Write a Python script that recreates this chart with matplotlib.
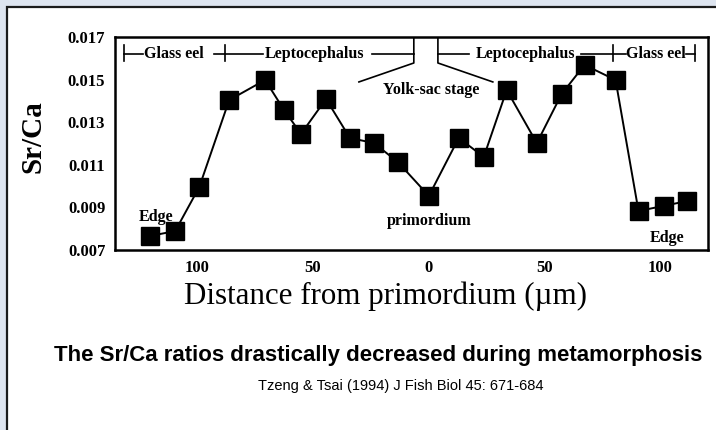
import matplotlib
matplotlib.use("Agg")
import matplotlib.pyplot as plt
from matplotlib.patches import Rectangle

# distance from primordium (negative = left half of the transect), Sr/Ca ratio
distance = [-120.3, -109.5, -99.1, -86.2, -70.7, -62.5, -55.2, -44.4, -34.1,
            -23.7, -13.4, 0.0, 12.9, 23.7, 33.6, 46.6, 57.3, 67.2, 80.6,
            90.5, 101.3, 111.6]
sr_ca = [0.00766, 0.00789, 0.00996, 0.01404, 0.01498, 0.01357, 0.01245,
         0.01409, 0.01226, 0.01202, 0.01113, 0.00954, 0.01226, 0.01137,
         0.01451, 0.01202, 0.01432, 0.01569, 0.01498, 0.00883, 0.00907,
         0.00930]

x_ticks = [-100, -50, 0, 50, 100]
x_tick_labels = ["100", "50", "0", "50", "100"]
y_ticks = [0.007, 0.009, 0.011, 0.013, 0.015, 0.017]
y_tick_labels = ["0.007", "0.009", "0.011", "0.013", "0.015", "0.017"]

SERIF = "Liberation Serif"
SANS = "Liberation Sans"

W, H = 716, 430
fig = plt.figure(figsize=(W / 100, H / 100), dpi=100, facecolor="#dde4ef")

# white slide panel (behind everything)
fig.patches.append(Rectangle((7 / W, -0.05), 1.05, 1 - 7 / H + 0.05,
                             transform=fig.transFigure, facecolor="white",
                             edgecolor="#1a1a1a", lw=1.6, zorder=-10))

ax = fig.add_axes([115 / W, 1 - 250 / H, (708 - 115) / W, (250 - 37) / H])
ax.set_zorder(1)
ax.set_facecolor("white")
ax.plot(distance, sr_ca, color="black", lw=1.4, marker="s", ms=13.5,
        mec="black", mfc="black", zorder=3, clip_on=False)

ax.set_xlim(-135.5, 120.5)
ax.set_ylim(0.007, 0.017)
ax.set_xticks(x_ticks, x_tick_labels)
ax.set_yticks(y_ticks, y_tick_labels)
ax.tick_params(length=0, pad=7)
for lab in ax.get_xticklabels() + ax.get_yticklabels():
    lab.set_fontfamily(SERIF)
    lab.set_fontweight("bold")
    lab.set_fontsize(12)
for sp in ax.spines.values():
    sp.set_linewidth(1.8)

# ── stage bracket along the top ──
yb = 0.0162
lk = dict(color="black", lw=1.2, zorder=2)
ax.plot([-131.5, -131.5], [0.01587, 0.01662], **lk)
ax.plot([-131.5, -123.5], [yb, yb], **lk)
ax.plot([-92.7, -71.6], [yb, yb], **lk)
ax.plot([-87.9, -87.9], [0.01587, 0.01662], **lk)
ax.plot([-24.6, -6.5], [yb, yb], **lk)
ax.plot([-6.5, -6.5, -30.2], [0.017, 0.01578, 0.01489], **lk)
ax.plot([3.9, 3.9, 27.6], [0.017, 0.01578, 0.01489], **lk)
ax.plot([3.9, 17.2], [yb, yb], **lk)
ax.plot([65.5, 84.9], [yb, yb], **lk)
ax.plot([79.3, 79.3], [0.01587, 0.01662], **lk)
ax.plot([110.8, 115.1], [yb, yb], **lk)
ax.plot([115.1, 115.1], [0.01587, 0.01662], **lk)

tk = dict(fontfamily=SERIF, fontweight="bold", fontsize=11.5, va="center")
ax.text(-122.8, yb, "Glass eel", ha="left", **tk)
ax.text(-70.7, yb, "Leptocephalus", ha="left", **tk)
ax.text(20.3, yb, "Leptocephalus", ha="left", **tk)
ax.text(85.0, yb, "Glass eel", ha="left", **tk)
ax.text(0.9, 0.01451, "Yolk-sac stage", ha="center", **tk)
ax.text(-118, 0.00855, "Edge", ha="center", **tk)
ax.text(0, 0.00836, "primordium", ha="center", **tk)
ax.text(103, 0.00756, "Edge", ha="center", **tk)

fig.text(33 / W, 1 - 137 / H, "Sr/Ca", rotation=90, ha="center", va="center",
         fontfamily=SERIF, fontweight="bold", fontsize=21)
fig.text(385 / W, 1 - 296 / H, "Distance from primordium (\u00b5m)",
         ha="center", va="center", fontfamily=SERIF, fontsize=22.3)

fig.text(378 / W, 1 - 355 / H,
         "The Sr/Ca ratios drastically decreased during metamorphosis",
         ha="center", va="center", fontfamily=SANS, fontweight="bold",
         fontsize=16)
fig.text(401 / W, 1 - 386 / H, "Tzeng & Tsai (1994) J Fish Biol 45: 671-684",
         ha="center", va="center", fontfamily=SANS, fontsize=10.5)

fig.savefig("out.png", dpi=100, facecolor=fig.get_facecolor())
